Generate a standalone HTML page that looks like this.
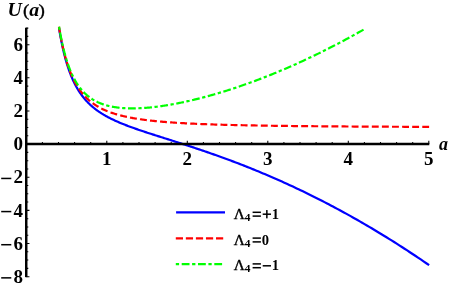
<!DOCTYPE html>
<html><head><meta charset="utf-8"><title>U(a)</title>
<style>html,body{margin:0;padding:0;background:#fff}svg{display:block;will-change:transform}</style>
</head><body>
<svg width="449" height="288" viewBox="0 0 449 288">
<rect width="449" height="288" fill="#fff"/>
<g fill="none" stroke-width="2.2">
<path d="M59.01,28.11 L59.24,29.52 L59.48,30.90 L59.71,32.27 L59.94,33.62 L60.18,34.95 L60.42,36.27 L60.66,37.56 L60.90,38.84 L61.14,40.10 L61.38,41.34 L61.63,42.57 L61.88,43.78 L62.13,44.97 L62.38,46.15 L62.63,47.31 L62.89,48.46 L63.14,49.59 L63.40,50.70 L63.66,51.80 L63.93,52.89 L64.19,53.96 L64.46,55.01 L64.72,56.06 L64.99,57.08 L65.26,58.10 L65.54,59.10 L65.81,60.09 L66.09,61.06 L66.37,62.02 L66.65,62.97 L66.93,63.90 L67.22,64.83 L67.51,65.74 L67.80,66.64 L68.09,67.52 L68.38,68.40 L68.68,69.26 L68.97,70.12 L69.27,70.96 L69.57,71.79 L69.88,72.60 L70.18,73.41 L70.49,74.21 L70.80,75.00 L71.11,75.77 L71.43,76.54 L71.75,77.30 L72.06,78.05 L72.39,78.78 L72.71,79.51 L73.03,80.23 L73.36,80.94 L73.69,81.64 L74.03,82.33 L74.36,83.01 L74.70,83.68 L75.04,84.35 L75.38,85.01 L75.72,85.65 L76.07,86.29 L76.42,86.93 L76.77,87.55 L77.13,88.17 L77.48,88.77 L77.84,89.37 L78.20,89.97 L78.57,90.55 L78.93,91.13 L79.30,91.70 L79.68,92.27 L80.05,92.83 L80.43,93.38 L80.81,93.92 L81.19,94.46 L81.58,94.99 L81.96,95.51 L82.35,96.03 L82.75,96.55 L83.14,97.05 L83.54,97.55 L83.94,98.05 L84.35,98.54 L84.76,99.02 L85.17,99.50 L85.58,99.97 L86.00,100.44 L86.41,100.90 L86.84,101.35 L87.26,101.80 L87.69,102.25 L88.12,102.69 L88.55,103.13 L88.99,103.56 L89.43,103.98 L89.87,104.41 L90.32,104.82 L90.77,105.24 L91.22,105.65 L91.68,106.05 L92.14,106.45 L92.60,106.85 L93.06,107.24 L93.53,107.63 L94.00,108.01 L94.48,108.39 L94.96,108.77 L95.44,109.14 L95.92,109.51 L96.41,109.88 L96.91,110.24 L97.40,110.60 L97.90,110.95 L98.40,111.31 L98.91,111.66 L99.42,112.00 L99.93,112.34 L100.45,112.69 L100.97,113.02 L101.49,113.36 L102.02,113.69 L102.55,114.02 L103.09,114.34 L103.62,114.67 L104.17,114.99 L104.71,115.31 L105.26,115.62 L105.82,115.94 L106.38,116.25 L106.94,116.56 L107.50,116.87 L108.07,117.17 L108.65,117.48 L109.23,117.78 L109.81,118.08 L110.39,118.37 L110.98,118.67 L111.58,118.96 L112.18,119.26 L112.78,119.55 L113.39,119.84 L114.00,120.12 L114.61,120.41 L115.23,120.69 L115.86,120.98 L116.49,121.26 L117.12,121.54 L117.76,121.82 L118.40,122.10 L119.04,122.38 L119.70,122.65 L120.35,122.93 L121.01,123.21 L121.68,123.48 L122.35,123.75 L123.02,124.02 L123.70,124.30 L124.38,124.57 L125.07,124.84 L125.76,125.11 L126.46,125.38 L127.16,125.65 L127.87,125.92 L128.58,126.18 L129.30,126.45 L130.03,126.72 L130.75,126.99 L131.49,127.26 L132.22,127.52 L132.97,127.79 L133.72,128.06 L134.47,128.33 L135.23,128.59 L135.99,128.86 L136.76,129.13 L137.54,129.40 L138.32,129.67 L139.11,129.94 L139.90,130.21 L140.69,130.48 L141.50,130.75 L142.31,131.02 L143.12,131.29 L143.94,131.57 L144.77,131.84 L145.60,132.12 L146.43,132.39 L147.28,132.67 L148.13,132.95 L148.98,133.22 L149.84,133.50 L150.71,133.78 L151.58,134.07 L152.46,134.35 L153.35,134.64 L154.24,134.92 L155.14,135.21 L156.04,135.50 L156.95,135.79 L157.87,136.08 L158.79,136.37 L159.72,136.67 L160.66,136.97 L161.60,137.27 L162.55,137.57 L163.51,137.87 L164.47,138.18 L165.44,138.48 L166.42,138.79 L167.40,139.11 L168.39,139.42 L169.39,139.74 L170.39,140.05 L171.40,140.38 L172.42,140.70 L173.45,141.03 L174.48,141.35 L175.52,141.69 L176.57,142.02 L177.62,142.36 L178.68,142.70 L179.75,143.04 L180.83,143.39 L181.91,143.74 L183.01,144.09 L184.10,144.44 L185.21,144.80 L186.33,145.16 L187.45,145.53 L188.58,145.90 L189.72,146.27 L190.87,146.65 L192.02,147.03 L193.19,147.41 L194.36,147.80 L195.54,148.19 L196.72,148.59 L197.92,148.99 L199.12,149.39 L200.34,149.80 L201.56,150.21 L202.79,150.63 L204.03,151.05 L205.27,151.48 L206.53,151.91 L207.80,152.35 L209.07,152.79 L210.35,153.23 L211.64,153.68 L212.94,154.14 L214.25,154.60 L215.57,155.07 L216.90,155.54 L218.24,156.02 L219.59,156.50 L220.94,156.99 L222.31,157.48 L223.68,157.98 L225.07,158.49 L226.46,159.00 L227.87,159.52 L229.28,160.04 L230.71,160.57 L232.14,161.11 L233.59,161.65 L235.04,162.20 L236.51,162.76 L237.98,163.33 L239.47,163.90 L240.96,164.48 L242.47,165.06 L243.99,165.65 L245.52,166.25 L247.05,166.86 L248.60,167.48 L250.16,168.10 L251.73,168.73 L253.32,169.37 L254.91,170.02 L256.51,170.68 L258.13,171.34 L259.76,172.01 L261.40,172.70 L263.05,173.39 L264.71,174.09 L266.38,174.79 L268.06,175.51 L269.76,176.24 L271.47,176.98 L273.19,177.72 L274.92,178.48 L276.67,179.24 L278.43,180.02 L280.19,180.81 L281.98,181.60 L283.77,182.41 L285.58,183.23 L287.40,184.06 L289.23,184.90 L291.08,185.75 L292.93,186.61 L294.80,187.49 L296.69,188.38 L298.59,189.27 L300.50,190.18 L302.42,191.11 L304.36,192.04 L306.31,192.99 L308.28,193.95 L310.26,194.92 L312.25,195.91 L314.26,196.91 L316.28,197.92 L318.31,198.95 L320.36,199.99 L322.42,201.05 L324.50,202.12 L326.60,203.20 L328.70,204.30 L330.82,205.41 L332.96,206.54 L335.11,207.69 L337.28,208.85 L339.46,210.02 L341.66,211.22 L343.88,212.43 L346.10,213.65 L348.35,214.89 L350.61,216.15 L352.88,217.43 L355.18,218.73 L357.48,220.04 L359.81,221.37 L362.15,222.72 L364.51,224.08 L366.88,225.47 L369.27,226.88 L371.68,228.30 L374.10,229.75 L376.54,231.21 L379.00,232.69 L381.48,234.20 L383.97,235.73 L386.48,237.27 L389.01,238.84 L391.55,240.43 L394.11,242.05 L396.70,243.68 L399.30,245.34 L401.91,247.02 L404.55,248.72 L407.20,250.45 L409.88,252.21 L412.57,253.98 L415.28,255.78 L418.01,257.61 L420.76,259.46 L423.53,261.34 L426.31,263.24 L429.12,265.17" stroke="#0000ff"/>
<path d="M58.95,26.78 L59.11,27.79 L59.28,28.79 L59.44,29.78 L59.61,30.76 L59.78,31.72 L59.95,32.68 L60.12,33.63 L60.29,34.57 L60.46,35.50 L60.63,36.42 L60.80,37.33 L60.98,38.23 L61.15,39.13 L61.33,40.01 L61.50,40.89 L61.68,41.75 L61.86,42.61 L62.04,43.46 L62.22,44.30 L62.40,45.13 L62.58,45.96 L62.76,46.77 L62.95,47.58 L63.13,48.38 L63.32,49.17 L63.51,49.96 L63.69,50.73 L63.88,51.50 L64.07,52.26 L64.26,53.02 L64.45,53.76 L64.64,54.50 L64.84,55.23 L65.03,55.95 L65.23,56.67 L65.42,57.38 L65.62,58.08 L65.82,58.77 L66.02,59.46 L66.22,60.14 L66.42,60.82 L66.62,61.48 L66.82,62.14 L67.03,62.80 L67.23,63.45 L67.44,64.09 L67.65,64.72 L67.86,65.35 L68.07,65.97 L68.28,66.59 L68.49,67.20 L68.70,67.80 L68.91,68.40 L69.13,68.99 L69.34,69.58 L69.56,70.16 L69.75,70.66" stroke="#ff0000" stroke-dasharray="6.2 2.84"/>
<path d="M69.75,70.66 L70.08,71.51 L70.41,72.35 L70.75,73.17 L71.08,73.99 L71.42,74.79 L71.76,75.58 L72.11,76.36 L72.45,77.12 L72.80,77.88 L73.15,78.62 L73.51,79.35 L73.87,80.07 L74.23,80.78 L74.59,81.48 L74.95,82.17 L75.32,82.85 L75.69,83.52 L76.07,84.18 L76.44,84.83 L76.82,85.47 L77.21,86.10 L77.59,86.72 L77.98,87.33 L78.37,87.93 L78.77,88.52 L79.16,89.10 L79.56,89.68 L79.97,90.25 L80.37,90.80 L80.78,91.35 L81.19,91.90 L81.61,92.43 L82.03,92.95 L82.45,93.47 L82.87,93.98 L83.30,94.48 L83.73,94.98 L84.17,95.47 L84.61,95.95 L85.05,96.42 L85.49,96.88 L85.94,97.34 L86.39,97.79 L86.85,98.24 L87.30,98.68 L87.77,99.11 L88.23,99.53 L88.70,99.95 L89.17,100.37 L89.65,100.77 L90.13,101.17 L90.61,101.57 L91.10,101.96 L91.59,102.34 L92.08,102.72 L92.58,103.09 L93.08,103.45 L93.59,103.81 L94.10,104.17 L94.61,104.52 L95.13,104.86 L95.65,105.20 L96.17,105.54 L96.70,105.87 L97.23,106.19 L97.77,106.51 L98.31,106.82 L98.86,107.13 L99.41,107.44 L99.96,107.74 L100.52,108.04 L101.08,108.33 L101.65,108.62 L102.22,108.90 L102.79,109.18 L103.37,109.45 L103.95,109.72 L104.54,109.99 L105.13,110.25 L105.73,110.51 L106.33,110.76 L106.94,111.02 L107.55,111.26 L108.16,111.51 L108.78,111.75 L109.40,111.98 L110.03,112.22 L110.67,112.44 L111.31,112.67 L111.95,112.89 L112.60,113.11 L113.25,113.33 L113.91,113.54 L114.57,113.75 L115.24,113.96 L115.91,114.16 L116.59,114.36 L117.27,114.56 L117.96,114.75 L118.66,114.94 L119.36,115.13 L120.06,115.32 L120.77,115.50 L121.48,115.68 L122.21,115.86 L122.93,116.03 L123.66,116.20 L124.40,116.37 L125.14,116.54 L125.89,116.70 L126.64,116.87 L127.40,117.03 L128.17,117.18 L128.94,117.34 L129.72,117.49 L130.50,117.64 L131.29,117.79 L132.08,117.93 L132.88,118.08 L133.69,118.22 L134.50,118.36 L135.32,118.50 L136.15,118.63 L136.98,118.76 L137.82,118.90 L138.66,119.02 L139.51,119.15 L140.37,119.28 L141.23,119.40 L142.10,119.52 L142.98,119.64 L143.86,119.76 L144.75,119.88 L145.65,119.99 L146.55,120.10 L147.46,120.22 L148.38,120.32 L149.30,120.43 L150.23,120.54 L151.17,120.64 L152.11,120.75 L153.07,120.85 L154.03,120.95 L154.99,121.05 L155.97,121.14 L156.95,121.24 L157.94,121.33 L158.93,121.43 L159.94,121.52 L160.95,121.61 L161.97,121.70 L162.99,121.78 L164.03,121.87 L165.07,121.95 L166.12,122.04 L167.18,122.12 L168.25,122.20 L169.32,122.28 L170.40,122.36 L171.49,122.44 L172.59,122.51 L173.70,122.59 L174.82,122.66 L175.94,122.73 L177.07,122.81 L178.21,122.88 L179.36,122.95 L180.52,123.02 L181.69,123.08 L182.86,123.15 L184.05,123.22 L185.24,123.28 L186.45,123.34 L187.66,123.41 L188.88,123.47 L190.11,123.53 L191.35,123.59 L192.60,123.65 L193.86,123.71 L195.13,123.76 L196.40,123.82 L197.69,123.87 L198.99,123.93 L200.30,123.98 L201.61,124.04 L202.94,124.09 L204.28,124.14 L205.62,124.19 L206.98,124.24 L208.35,124.29 L209.73,124.34 L211.11,124.39 L212.51,124.43 L213.92,124.48 L215.34,124.53 L216.77,124.57 L218.21,124.61 L219.67,124.66 L221.13,124.70 L222.61,124.74 L224.09,124.79 L225.59,124.83 L227.10,124.87 L228.62,124.91 L230.15,124.95 L231.69,124.98 L233.24,125.02 L234.81,125.06 L236.39,125.10 L237.98,125.13 L239.58,125.17 L241.20,125.20 L242.82,125.24 L244.46,125.27 L246.11,125.31 L247.78,125.34 L249.45,125.37 L251.14,125.41 L252.84,125.44 L254.56,125.47 L256.28,125.50 L258.03,125.53 L259.78,125.56 L261.55,125.59 L263.33,125.62 L265.12,125.65 L266.93,125.68 L268.75,125.70 L270.58,125.73 L272.43,125.76 L274.30,125.78 L276.17,125.81 L278.06,125.84 L279.97,125.86 L281.89,125.89 L283.82,125.91 L285.77,125.94 L287.74,125.96 L289.72,125.98 L291.71,126.01 L293.72,126.03 L295.74,126.05 L297.78,126.07 L299.84,126.09 L301.91,126.12 L303.99,126.14 L306.09,126.16 L308.21,126.18 L310.35,126.20 L312.50,126.22 L314.66,126.24 L316.84,126.26 L319.04,126.28 L321.26,126.30 L323.49,126.31 L325.74,126.33 L328.01,126.35 L330.29,126.37 L332.59,126.39 L334.91,126.40 L337.25,126.42 L339.60,126.44 L341.97,126.45 L344.36,126.47 L346.77,126.48 L349.19,126.50 L351.64,126.52 L354.10,126.53 L356.58,126.55 L359.08,126.56 L361.60,126.57 L364.14,126.59 L366.69,126.60 L369.27,126.62 L371.86,126.63 L374.48,126.64 L377.12,126.66 L379.77,126.67 L382.45,126.68 L385.14,126.70 L387.86,126.71 L390.59,126.72 L393.35,126.73 L396.13,126.74 L398.93,126.76 L401.75,126.77 L404.59,126.78 L407.45,126.79 L410.34,126.80 L413.24,126.81 L416.17,126.82 L419.12,126.83 L422.10,126.84 L425.09,126.85 L428.11,126.86 L429.12,126.87" stroke="#ff0000" stroke-dasharray="6.9 3.19"/>
<path d="M59.10,26.78 L59.31,28.06 L59.53,29.32 L59.74,30.57 L59.96,31.80 L60.18,33.01 L60.40,34.21 L60.62,35.39 L60.85,36.55 L61.07,37.70 L61.30,38.84 L61.53,39.96 L61.76,41.06 L61.99,42.15 L62.22,43.23 L62.46,44.29 L62.69,45.34 L62.93,46.37 L63.17,47.39 L63.41,48.40 L63.65,49.39 L63.90,50.37 L64.14,51.33 L64.39,52.29 L64.64,53.23 L64.89,54.16 L65.14,55.07 L65.40,55.97 L65.65,56.87 L65.91,57.74 L66.17,58.61 L66.43,59.47 L66.69,60.31 L66.95,61.15 L67.22,61.97 L67.48,62.78 L67.75,63.58 L68.02,64.37 L68.30,65.14 L68.57,65.91 L68.85,66.67 L69.12,67.41 L69.40,68.15 L69.68,68.88 L69.97,69.59 L70.25,70.30 L70.54,71.00 L70.83,71.69 L71.12,72.36 L71.41,73.03 L71.71,73.69 L72.00,74.34 L72.30,74.98 L72.60,75.62 L72.90,76.24 L73.21,76.85 L73.51,77.46 L73.82,78.06 L74.13,78.65 L74.44,79.23 L74.76,79.80 L75.08,80.37 L75.39,80.92 L75.71,81.47 L76.04,82.01 L76.36,82.55 L76.69,83.07 L77.02,83.59 L77.35,84.10 L77.68,84.61 L78.02,85.10 L78.35,85.59 L78.69,86.08 L79.04,86.55 L79.38,87.02 L79.73,87.48 L80.08,87.93 L80.43,88.38 L80.78,88.82 L81.14,89.26 L81.49,89.69 L81.85,90.11 L82.22,90.52 L82.58,90.93 L82.95,91.33 L83.32,91.73 L83.69,92.12 L84.07,92.51 L84.44,92.89 L84.82,93.26 L85.20,93.63 L85.59,93.99 L85.98,94.34 L86.37,94.69 L86.76,95.04 L87.15,95.38 L87.55,95.71 L87.95,96.04 L88.35,96.36 L88.76,96.68 L89.16,96.99 L89.58,97.30 L89.99,97.60 L90.40,97.90 L90.82,98.19 L91.24,98.48 L91.67,98.76 L92.09,99.04 L92.52,99.31 L92.96,99.58 L93.39,99.84 L93.83,100.10 L94.27,100.35 L94.71,100.60 L95.16,100.84 L95.61,101.08 L96.06,101.32 L96.52,101.55 L96.98,101.78 L97.44,102.00 L97.90,102.22 L98.37,102.43 L98.84,102.64 L99.31,102.84 L99.79,103.04 L100.27,103.24 L100.75,103.43 L101.24,103.62 L101.73,103.81 L102.22,103.99 L102.72,104.16 L103.21,104.34 L103.72,104.51 L104.22,104.67 L104.73,104.83 L105.24,104.99 L105.76,105.14 L106.28,105.29 L106.80,105.44 L107.32,105.58 L107.85,105.72 L108.39,105.85 L108.92,105.98 L109.46,106.11 L110.00,106.23 L110.55,106.35 L111.10,106.47 L111.65,106.58 L112.21,106.69 L112.77,106.80 L113.34,106.90 L113.90,107.00 L114.48,107.09 L115.05,107.18 L115.63,107.27 L116.21,107.36 L116.80,107.44 L117.39,107.52 L117.99,107.59 L118.58,107.66 L119.19,107.73 L119.79,107.80 L120.40,107.86 L121.02,107.91 L121.64,107.97 L122.26,108.02 L122.88,108.07 L123.52,108.11 L124.15,108.15 L124.79,108.19 L125.43,108.23 L126.08,108.26 L126.73,108.29 L127.39,108.31 L128.05,108.33 L128.71,108.35 L129.38,108.37 L130.05,108.38 L130.73,108.39 L131.41,108.39 L132.10,108.40 L132.79,108.40 L133.48,108.39 L134.18,108.38 L134.89,108.37 L135.59,108.36 L136.31,108.34 L137.03,108.32 L137.75,108.30 L138.48,108.27 L139.21,108.24 L139.95,108.21 L140.69,108.17 L141.43,108.13 L142.19,108.09 L142.94,108.04 L143.70,107.99 L144.47,107.94 L145.24,107.88 L146.02,107.82 L146.80,107.76 L147.59,107.69 L148.38,107.62 L149.17,107.55 L149.98,107.47 L150.78,107.39 L151.60,107.31 L152.41,107.22 L153.24,107.13 L154.07,107.04 L154.90,106.94 L155.74,106.84 L156.59,106.74 L157.44,106.63 L158.29,106.52 L159.15,106.40 L160.02,106.28 L160.89,106.16 L161.77,106.04 L162.66,105.91 L163.55,105.77 L164.44,105.64 L165.34,105.50 L166.25,105.35 L167.17,105.21 L168.08,105.05 L169.01,104.90 L169.94,104.74 L170.88,104.58 L171.82,104.41 L172.77,104.24 L173.73,104.06 L174.69,103.89 L175.66,103.70 L176.64,103.52 L177.62,103.32 L178.60,103.13 L179.60,102.93 L180.60,102.73 L181.61,102.52 L182.62,102.31 L183.64,102.09 L184.67,101.87 L185.70,101.65 L186.74,101.42 L187.79,101.18 L188.84,100.95 L189.91,100.70 L190.97,100.46 L192.05,100.21 L193.13,99.95 L194.22,99.69 L195.32,99.42 L196.42,99.15 L197.53,98.88 L198.65,98.60 L199.77,98.31 L200.90,98.02 L202.04,97.73 L203.19,97.43 L204.35,97.12 L205.51,96.81 L206.68,96.50 L207.86,96.18 L209.04,95.85 L210.23,95.52 L211.43,95.18 L212.64,94.84 L213.86,94.49 L215.08,94.14 L216.32,93.78 L217.56,93.42 L218.80,93.05 L220.06,92.67 L221.33,92.29 L222.60,91.90 L223.88,91.51 L225.17,91.11 L226.47,90.70 L227.78,90.29 L229.09,89.87 L230.41,89.44 L231.75,89.01 L233.09,88.57 L234.44,88.13 L235.80,87.68 L237.16,87.22 L238.54,86.75 L239.93,86.28 L241.32,85.80 L242.72,85.31 L244.14,84.82 L245.56,84.32 L246.99,83.81 L248.43,83.30 L249.88,82.78 L251.34,82.24 L252.81,81.71 L254.29,81.16 L255.78,80.61 L257.27,80.05 L258.78,79.48 L260.30,78.90 L261.83,78.31 L263.36,77.72 L264.91,77.12 L266.47,76.50 L268.04,75.88 L269.62,75.26 L271.20,74.62 L272.80,73.97 L274.41,73.32 L276.03,72.65 L277.66,71.98 L279.30,71.29 L280.95,70.60 L282.62,69.90 L284.29,69.19 L285.97,68.46 L287.67,67.73 L289.37,66.99 L291.09,66.24 L292.82,65.47 L294.56,64.70 L296.31,63.92 L298.07,63.12 L299.85,62.32 L301.63,61.50 L303.43,60.67 L305.24,59.83 L307.06,58.98 L308.89,58.12 L310.74,57.24 L312.60,56.36 L314.46,55.46 L316.35,54.55 L318.24,53.63 L320.14,52.69 L322.06,51.74 L323.99,50.78 L325.94,49.81 L327.89,48.82 L329.86,47.82 L331.84,46.81 L333.84,45.78 L335.84,44.74 L337.87,43.69 L339.90,42.62 L341.95,41.53 L344.01,40.43 L346.08,39.32 L348.17,38.19 L350.27,37.05 L352.38,35.89 L354.51,34.72 L356.66,33.53 L358.81,32.32 L360.98,31.10 L363.17,29.86 L365.37,28.61" stroke="#00ff00" stroke-dasharray="3.28 2.58 7.76 2.58"/>
</g>
<g stroke="#000" fill="none">
<path d="M42.40,144.05 v-2.05 M58.50,144.05 v-2.05 M74.60,144.05 v-2.05 M90.70,144.05 v-2.05 M106.80,144.05 v-3.2 M122.90,144.05 v-2.05 M139.00,144.05 v-2.05 M155.10,144.05 v-2.05 M171.20,144.05 v-2.05 M187.30,144.05 v-3.2 M203.40,144.05 v-2.05 M219.50,144.05 v-2.05 M235.60,144.05 v-2.05 M251.70,144.05 v-2.05 M267.80,144.05 v-3.2 M283.90,144.05 v-2.05 M300.00,144.05 v-2.05 M316.10,144.05 v-2.05 M332.20,144.05 v-2.05 M348.30,144.05 v-3.2 M364.40,144.05 v-2.05 M380.50,144.05 v-2.05 M396.60,144.05 v-2.05 M412.70,144.05 v-2.05 M428.80,144.05 v-3.2 M26.25,276.66 h3.2 M26.25,268.38 h2.05 M26.25,260.09 h2.05 M26.25,251.81 h2.05 M26.25,243.52 h3.2 M26.25,235.24 h2.05 M26.25,226.95 h2.05 M26.25,218.66 h2.05 M26.25,210.38 h3.2 M26.25,202.09 h2.05 M26.25,193.81 h2.05 M26.25,185.52 h2.05 M26.25,177.24 h3.2 M26.25,168.95 h2.05 M26.25,160.67 h2.05 M26.25,152.38 h2.05 M26.25,144.10 h3.2 M26.25,135.81 h2.05 M26.25,127.53 h2.05 M26.25,119.24 h2.05 M26.25,110.96 h3.2 M26.25,102.67 h2.05 M26.25,94.39 h2.05 M26.25,86.10 h2.05 M26.25,77.82 h3.2 M26.25,69.53 h2.05 M26.25,61.25 h2.05 M26.25,52.96 h2.05 M26.25,44.68 h3.2 M26.25,36.39 h2.05 M26.25,28.11 h2.05" stroke-width="1.05"/>
<path d="M26.25,27.71 V277.16" stroke-width="2.45"/>
<path d="M26.25,144.05 H429.30" stroke-width="2.45"/>
</g>
<g font-family="'Liberation Serif', serif" font-weight="bold" font-size="19" fill="#000">
<text x="22.95" y="50.88" text-anchor="end">6</text>
<text x="22.95" y="84.02" text-anchor="end">4</text>
<text x="22.95" y="117.16" text-anchor="end">2</text>
<text x="22.95" y="150.30" text-anchor="end">0</text>
<text x="22.95" y="183.44" text-anchor="end">2</text>
<rect x="1.2" y="177.69" width="10.1" height="1.5"/>
<text x="22.95" y="216.58" text-anchor="end">4</text>
<rect x="1.2" y="210.83" width="10.1" height="1.5"/>
<text x="22.95" y="249.72" text-anchor="end">6</text>
<rect x="1.2" y="243.97" width="10.1" height="1.5"/>
<text x="22.95" y="282.86" text-anchor="end">8</text>
<rect x="1.2" y="277.11" width="10.1" height="1.5"/>
<text x="106.85" y="164.5" text-anchor="middle">1</text>
<text x="187.35" y="164.5" text-anchor="middle">2</text>
<text x="267.85" y="164.5" text-anchor="middle">3</text>
<text x="348.35" y="164.5" text-anchor="middle">4</text>
<text x="428.85" y="164.5" text-anchor="middle">5</text>
<text transform="translate(7.39,16.00) scale(1.100,1.000)" font-size="18" font-weight="bold" font-style="italic" >U</text>
<text transform="translate(22.96,15.50) scale(1.180,1.000)" font-size="16.2" font-weight="normal" stroke="#000" stroke-width="0.35">(</text>
<text transform="translate(29.17,16.00) scale(1.100,1.000)" font-size="18" font-weight="bold" font-style="italic" >a</text>
<text transform="translate(38.38,15.50) scale(1.180,1.000)" font-size="16.2" font-weight="normal" stroke="#000" stroke-width="0.35">)</text>
<text transform="translate(439.09,150.20)" font-size="18" font-weight="bold" font-style="italic" >a</text>
</g>
<g fill="none" stroke-width="2.2">
<path d="M176.1,212.4 H225" stroke="#0000ff"/>
<path d="M175.8,238.3 H223.2" stroke="#ff0000" stroke-dasharray="7.2 2.85"/>
<path d="M175.8,264.1 H222.2" stroke="#00ff00" stroke-dasharray="3.3 2.6 7.8 2.6"/>
</g>
<g font-family="'Liberation Serif', serif" fill="#000">
<text transform="translate(233.65,218.70) scale(1.030,1.000)" font-size="14.8" font-weight="normal" stroke="#000" stroke-width="0.35">Λ</text>
<text transform="translate(244.74,220.80)" font-size="11.4" font-weight="bold" >4</text>
<rect x="252.6" y="211.55" width="8.3" height="1.5"/>
<rect x="252.6" y="215.35" width="8.3" height="1.5"/>
<rect x="262.7" y="213.45" width="8.3" height="1.5"/>
<rect x="266.10" y="210.05" width="1.5" height="8.3"/>
<text transform="translate(271.83,218.70)" font-size="14.6" font-weight="bold" >1</text>
<text transform="translate(233.65,244.50) scale(1.030,1.000)" font-size="14.8" font-weight="normal" stroke="#000" stroke-width="0.35">Λ</text>
<text transform="translate(244.74,246.60)" font-size="11.4" font-weight="bold" >4</text>
<rect x="252.6" y="237.35" width="8.3" height="1.5"/>
<rect x="252.6" y="241.15" width="8.3" height="1.5"/>
<text transform="translate(261.64,244.50)" font-size="14.6" font-weight="bold" >0</text>
<text transform="translate(233.65,270.30) scale(1.030,1.000)" font-size="14.8" font-weight="normal" stroke="#000" stroke-width="0.35">Λ</text>
<text transform="translate(244.74,272.40)" font-size="11.4" font-weight="bold" >4</text>
<rect x="252.6" y="263.15" width="8.3" height="1.5"/>
<rect x="252.6" y="266.95" width="8.3" height="1.5"/>
<rect x="262.7" y="265.05" width="8.3" height="1.5"/>
<text transform="translate(271.83,270.30)" font-size="14.6" font-weight="bold" >1</text>
</g>
</svg>
</body></html>
